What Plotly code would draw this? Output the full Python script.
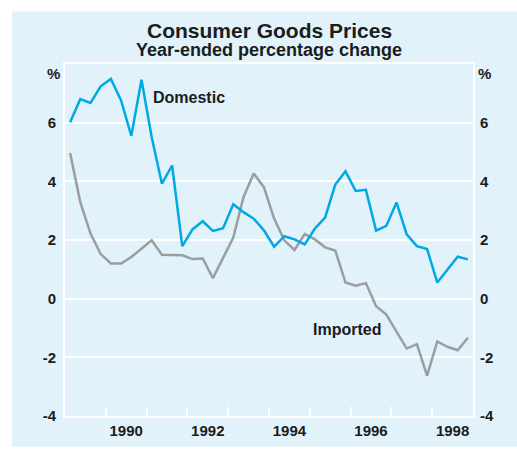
import plotly.graph_objects as go

# Quarterly observations, first at early 1989
start_year = 1989.125
step = 0.25

domestic = [6.01, 6.80, 6.67, 7.24, 7.49, 6.76, 5.55, 7.46, 5.50, 3.92,
            4.54, 1.79, 2.36, 2.64, 2.31, 2.40, 3.22, 2.95, 2.73, 2.33,
            1.77, 2.13, 2.02, 1.85, 2.39, 2.76, 3.89, 4.34, 3.67, 3.71,
            2.32, 2.48, 3.28, 2.19, 1.79, 1.69, 0.55, 1.00, 1.43, 1.34]

imported = [4.97, 3.29, 2.22, 1.52, 1.20, 1.20, 1.42, 1.71, 1.99, 1.50,
            1.49, 1.48, 1.35, 1.37, 0.70, 1.37, 2.08, 3.46, 4.27, 3.80,
            2.73, 1.99, 1.66, 2.20, 2.02, 1.75, 1.64, 0.55, 0.44, 0.53,
            -0.26, -0.54, -1.10, -1.70, -1.55, -2.62, -1.46, -1.64, -1.76, -1.33]

dates = [start_year + step * i for i in range(len(domestic))]

year_labels = ["1990", "1992", "1994", "1996", "1998"]
year_label_pos = [1990.5, 1992.5, 1994.5, 1996.5, 1998.5]
year_ticks = list(range(1990, 1999))
y_ticks = [-4, -2, 0, 2, 4, 6]
y_tick_text = ["-4", "-2", "0", "2", "4", "6"]

BG = "#E1F2FA"
BLUE = "#00A9E6"
GREY = "#999EA2"
TXT = "#1c1c1c"
FONT = "Liberation Sans, Arial, sans-serif"

fig = go.Figure()
fig.add_trace(go.Scatter(x=dates, y=imported, mode="lines",
                         line=dict(color=GREY, width=2.5), hoverinfo="skip"))
fig.add_trace(go.Scatter(x=dates, y=domestic, mode="lines",
                         line=dict(color=BLUE, width=2.5), hoverinfo="skip"))

tickfont = dict(family=FONT, size=15, color=TXT, weight="bold")

fig.update_layout(
    width=517, height=451,
    margin=dict(l=65, r=44, t=64, b=32),
    paper_bgcolor="white",
    plot_bgcolor=BG,
    showlegend=False,
    xaxis=dict(range=[1989, 1999], tickmode="array", tickvals=year_label_pos,
               ticktext=year_labels, ticks="", showgrid=False, zeroline=False,
               showline=True, linecolor="white", linewidth=2, mirror=True,
               tickfont=tickfont,
               minor=dict(tickmode="array", tickvals=year_ticks, ticks="inside",
                          ticklen=9, tickwidth=2, tickcolor="white", showgrid=False)),
    yaxis=dict(range=[-4, 8], tickmode="array", tickvals=y_ticks, ticktext=y_tick_text,
               ticks="", showgrid=True, gridcolor="white", gridwidth=1.5, zeroline=False,
               showline=True, linecolor="white", linewidth=2, mirror=True,
               tickfont=tickfont, ticklabelstandoff=4),
    yaxis2=dict(range=[-4, 8], tickmode="array", tickvals=y_ticks, ticktext=y_tick_text,
                ticks="", overlaying="y", side="right", showgrid=False, zeroline=False,
                showline=False, tickfont=tickfont, ticklabelstandoff=6),
    shapes=[dict(type="rect", xref="paper", yref="paper", layer="below",
                 x0=-0.13, x1=1.12, y0=-0.0873, y1=1.1493,
                 fillcolor=BG, line=dict(width=0))],
    annotations=[
        dict(text="Consumer Goods Prices", xref="paper", yref="paper", x=0.5, y=1.0955,
             showarrow=False, xanchor="center", yanchor="middle",
             font=dict(family=FONT, size=21, color=TXT, weight="bold")),
        dict(text="Year-ended percentage change", xref="paper", yref="paper", x=0.5, y=1.0395,
             showarrow=False, xanchor="center", yanchor="middle",
             font=dict(family=FONT, size=18, color=TXT, weight="bold")),
        dict(text="%", xref="paper", yref="paper", x=-0.0294, y=0.9738,
             showarrow=False, xanchor="center", yanchor="middle",
             font=dict(family=FONT, size=15, color=TXT, weight="bold")),
        dict(text="%", xref="paper", yref="paper", x=1.0294, y=0.9738,
             showarrow=False, xanchor="center", yanchor="middle",
             font=dict(family=FONT, size=15, color=TXT, weight="bold")),
        dict(text="Domestic", x=1992.03, y=6.87, xref="x", yref="y",
             showarrow=False, xanchor="center", yanchor="middle",
             font=dict(family=FONT, size=16, color=TXT, weight="bold")),
        dict(text="Imported", x=1995.91, y=-1.05, xref="x", yref="y",
             showarrow=False, xanchor="center", yanchor="middle",
             font=dict(family=FONT, size=16, color=TXT, weight="bold")),
    ],
)

# Invisible trace to anchor the right-hand axis
fig.add_trace(go.Scatter(x=dates, y=domestic, yaxis="y2", mode="lines",
                         line=dict(width=0), opacity=0, hoverinfo="skip"))

fig.write_html("out.html", config={"displayModeBar": False},
               post_script="document.body.style.margin='0px';document.body.style.overflow='hidden';")
